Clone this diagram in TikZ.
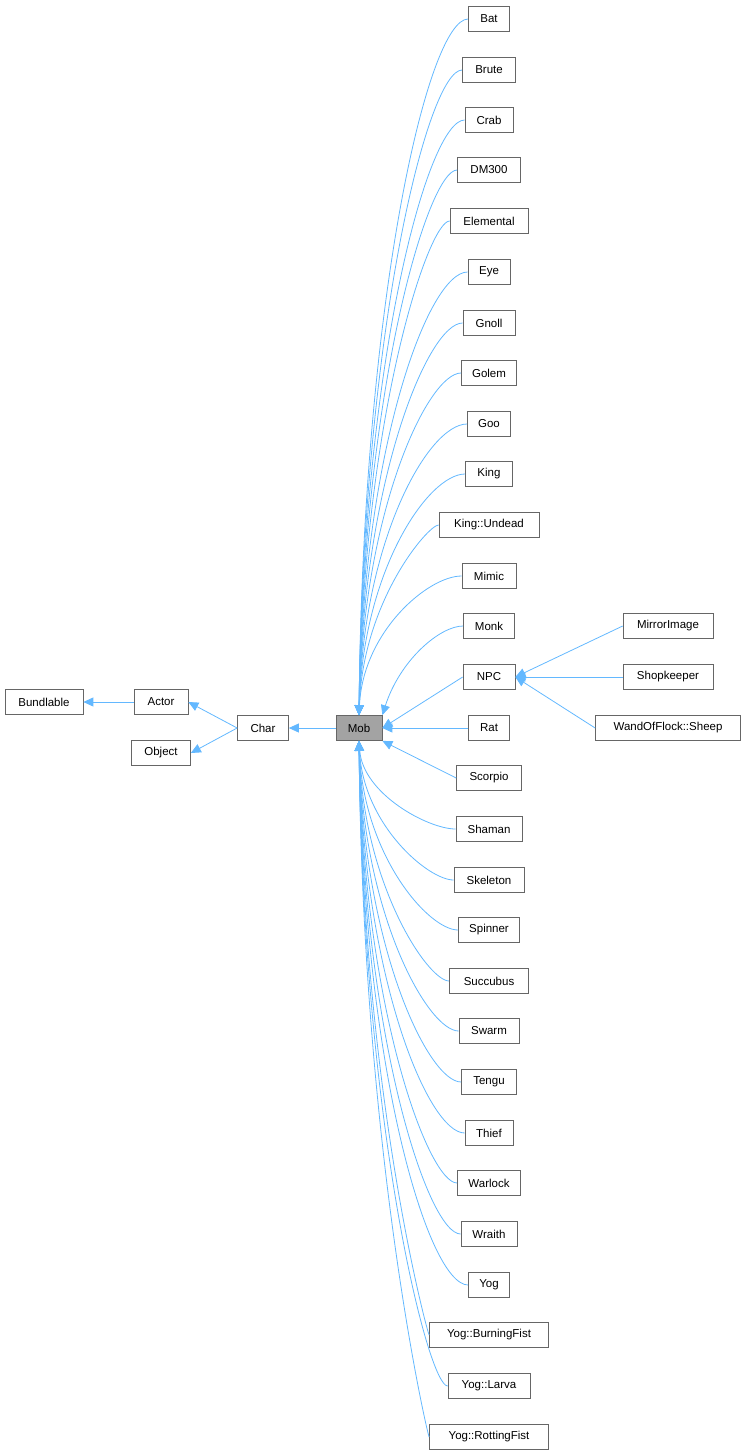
\documentclass[tikz,border=0pt]{standalone}
\usepackage{fontspec}
\setmainfont{Liberation Sans}
\usetikzlibrary{arrows.meta}
\definecolor{edge}{RGB}{99,184,255}
\definecolor{bord}{RGB}{102,102,102}
\begin{document}
\begin{tikzpicture}[x=1pt,y=-1pt,
  box/.style={draw=bord,line width=0.7pt,fill=white,font=\fontsize{11.5}{13}\selectfont,inner xsep=2pt,minimum height=25pt,inner ysep=0pt},
  inh/.style={draw=edge,line width=0.8pt,-{Triangle[length=10pt,width=9pt]}}]
\useasboundingbox (0,0) rectangle (747,1456);
\node[box,minimum width=78pt] (Bundlable) at (44,702) {Bundlable};
\node[box,minimum width=54pt] (Actor) at (161,702) {Actor};
\node[box,minimum width=59pt] (Object) at (161,753) {Object};
\node[box,minimum width=51pt] (Char) at (263,728) {Char};
\node[box,minimum width=46pt,fill=gray!80!black!60] (Mob) at (359,728) {Mob};
\foreach \n/\t/\y/\w in {Bat/Bat/19/41,Brute/Brute/70/53,Crab/Crab/120/48,DM/DM300/170/63,Elemental/Elemental/221/78,Eye/Eye/272/42,Gnoll/Gnoll/323/52,Golem/Golem/373/55,Goo/Goo/424/43,King/King/474/47,KingU/King::Undead/525/100,Mimic/Mimic/576/54}
 {\node[box,minimum width=\w pt] (\n) at (489,\y) {\t};
  \pgfmathsetmacro\cy{\y+0.4*(715-\y)}
  \draw[inh] (\n.west) .. controls (428,\y) and (363,\cy) .. (Mob.north);}
\node[box,minimum width=51pt] (Monk) at (489,626) {Monk};
\node[box,minimum width=52pt] (NPC) at (489,677) {NPC};
\node[box,minimum width=41pt] (Rat) at (489,728) {Rat};
\node[box,minimum width=65pt] (Scorpio) at (489,778) {Scorpio};
\draw[inh] (Monk.west) .. controls (440,626) and (400,660) .. (Mob.north east);
\draw[inh] (NPC.west) -- (Mob.east);
\draw[inh] (Rat.west) -- (Mob.east);
\draw[inh] (Scorpio.west) -- (Mob.south east);
\foreach \n/\t/\y/\w in {Shaman/Shaman/829/66,Skeleton/Skeleton/880/70,Spinner/Spinner/930/61,Succubus/Succubus/981/79,Swarm/Swarm/1031/60,Tengu/Tengu/1082/55,Thief/Thief/1133/48,Warlock/Warlock/1183/63,Wraith/Wraith/1234/56,Yog/Yog/1285/41,YogB/Yog::BurningFist/1335/119,YogL/Yog::Larva/1386/82,YogR/Yog::RottingFist/1437/119}
 {\node[box,minimum width=\w pt] (\n) at (489,\y) {\t};
  \pgfmathsetmacro\cy{\y-0.4*(\y-741)}
  \draw[inh] (\n.west) .. controls (428,\y) and (363,\cy) .. (Mob.south);}
\node[box,minimum width=90pt] (Mirror) at (668,626) {MirrorImage};
\node[box,minimum width=90pt] (Shop) at (668,677) {Shopkeeper};
\node[box,minimum width=145pt] (Sheep) at (668,728) {WandOfFlock::Sheep};
\draw[inh] (Mirror.west) -- (NPC.east);
\draw[inh] (Shop.west) -- (NPC.east);
\draw[inh] (Sheep.west) -- (NPC.east);
\draw[inh] (Mob.west) -- (Char.east);
\draw[inh] (Char.west) -- (Actor.east);
\draw[inh] (Char.west) -- (Object.east);
\draw[inh] (Actor.west) -- (Bundlable.east);
\end{tikzpicture}
\end{document}
